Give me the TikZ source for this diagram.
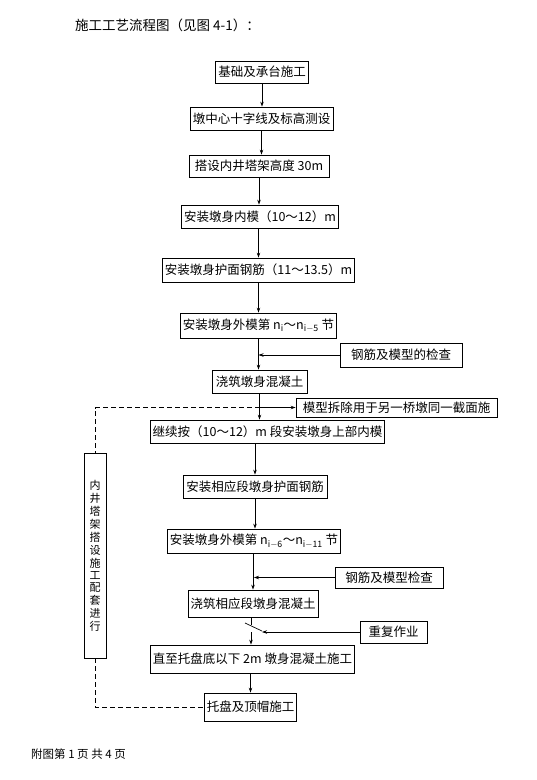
\documentclass[tikz,border=0pt]{standalone}
\usepackage{fontspec}
\setmainfont{Noto Sans CJK SC}
\usetikzlibrary{arrows.meta}
\tikzstyle{Box}=[draw,line width=.8pt,inner xsep=2.5pt,inner ysep=0pt,
font=\fontsize{12.5}{14}\selectfont]
\tikzstyle{Line}=[draw,line width=.7pt]
\tikzstyle{Edge}=[Line,-{Stealth[length=5pt,width=3.5pt]}]
\tikzstyle{DashEdge}=[Line,dash pattern=on 5pt off 3pt]
\tikzstyle{Title}=[anchor=west,inner sep=0pt,font=\fontsize{13.5}{15}\selectfont]
\tikzstyle{Foot}=[anchor=west,inner sep=0pt,font=\fontsize{11.5}{13}\selectfont]
\newcommand{\Sub}[1]{$\mathrm{n}_{\mathrm{#1}}$}

\begin{document}
\begin{tikzpicture}[x=1pt,y=-1pt]
        \useasboundingbox[fill=white](0,0)rectangle(537,780);
        \node[Title](t)at(75,25){施工工艺流程图（见图 4-1）：};
        \node[Box,minimum width=90pt,minimum height=22pt](s1)at(262,72)
            {基础及承台施工};
        \node[Box,minimum width=143pt,minimum height=23pt](s2)at(261.5,118.5)
            {墩中心十字线及标高测设};
        \node[Box,minimum width=140pt,minimum height=22pt](s3)at(259,166)
            {搭设内井塔架高度 30m};
        \node[Box,minimum width=144pt,minimum height=23pt](s4)at(260,216.5)
            {安装墩身内模（10～12）m};
        \node[Box,minimum width=177pt,minimum height=24pt](s5)at(258.5,270)
            {安装墩身护面钢筋（11～13.5）m};
        \node[Box,minimum width=153pt,minimum height=25pt](s6)at(258.5,325.5)
            {安装墩身外模第 \Sub{i}～\Sub{i-5} 节};
        \node[Box,minimum width=122pt,minimum height=24pt](c1)at(401,355)
            {钢筋及模型的检查};
        \node[Box,minimum width=95pt,minimum height=23pt](s7)at(259.5,381.5)
            {浇筑墩身混凝土};
        \node[Box,minimum width=201pt,minimum height=19pt](r)at(396.5,407.5)
            {模型拆除用于另一桥墩同一截面施};
        \node[Box,minimum width=231pt,minimum height=23pt](s8)at(267.5,431.5)
            {继续按（10～12）m 段安装墩身上部内模};
        \node[Box,minimum width=144pt,minimum height=23pt](s9)at(255,486.5)
            {安装相应段墩身护面钢筋};
        \node[Box,minimum width=168pt,minimum height=24pt](s10)at(254,541)
            {安装墩身外模第 \Sub{i-6}～\Sub{i-11} 节};
        \node[Box,minimum width=108pt,minimum height=21pt](c2)at(389,577.5)
            {钢筋及模型检查};
        \node[Box,minimum width=130pt,minimum height=27pt](s11)at(253,603.5)
            {浇筑相应段墩身混凝土};
        \node[Box,minimum width=67pt,minimum height=22pt](rep)at(393.5,632)
            {重复作业};
        \node[Box,minimum width=195pt,minimum height=28pt](s12)at(252.5,659)
            {直至托盘底以下 2m 墩身混凝土施工};
        \node[Box,minimum width=89pt,minimum height=28pt](s13)at(250.5,707)
            {托盘及顶帽施工};
        \node[Box,minimum width=22pt,minimum height=205pt,inner xsep=1pt,
            font=\fontsize{11}{12}\selectfont](side)
            at(95,555.5){\shortstack{内\\井\\塔\\架\\搭\\设\\施\\工\\配\\套\\进\\行}};
        \node[Foot](f)at(31,754){附图第 1 页 共 4 页};
        \draw[Edge](s1)--(s1|-s2.north);
        \draw[Edge](s2)--(s2|-s3.north);
        \draw[Edge](s3)--(s3|-s4.north);
        \draw[Edge](s5|-s4.south)--(s5);
        \draw[Edge](s5)--(s5|-s6.north);
        \draw[Edge](s6)--(s6|-s7.north);
        \draw[Edge](c1)--(c1-|s6);
        \draw[Edge](s7)--(s7|-s8.north);
        \coordinate(j)at(s7|-r);
        \draw[Edge](j)--(r);
        \draw[DashEdge](j)-|(side.north);
        \draw[DashEdge](side.south)|-(s13);
        \draw[Edge](s9|-s8.south)--(s9);
        \draw[Edge](s9)--(s9|-s10.north);
        \draw[Edge](s11|-s10.south)--(s11);
        \draw[Edge](c2)--(c2-|s10);
        % break mark below s11
        \coordinate(k1)at(251,625);
        \coordinate(k2)at(251,632);
        \coordinate(z1)at(245,623);
        \coordinate(z2)at(262,631);
        \draw[Line](s11.south-|k1)--(k1);
        \draw[Line](z1)--(z2);
        \draw[Edge](k2)--(k2|-s12.north);
        \draw[Edge](rep)--(rep-|z2);
        \draw[Edge](s13|-s12.south)--(s13);
    \end{tikzpicture}
\end{document}
